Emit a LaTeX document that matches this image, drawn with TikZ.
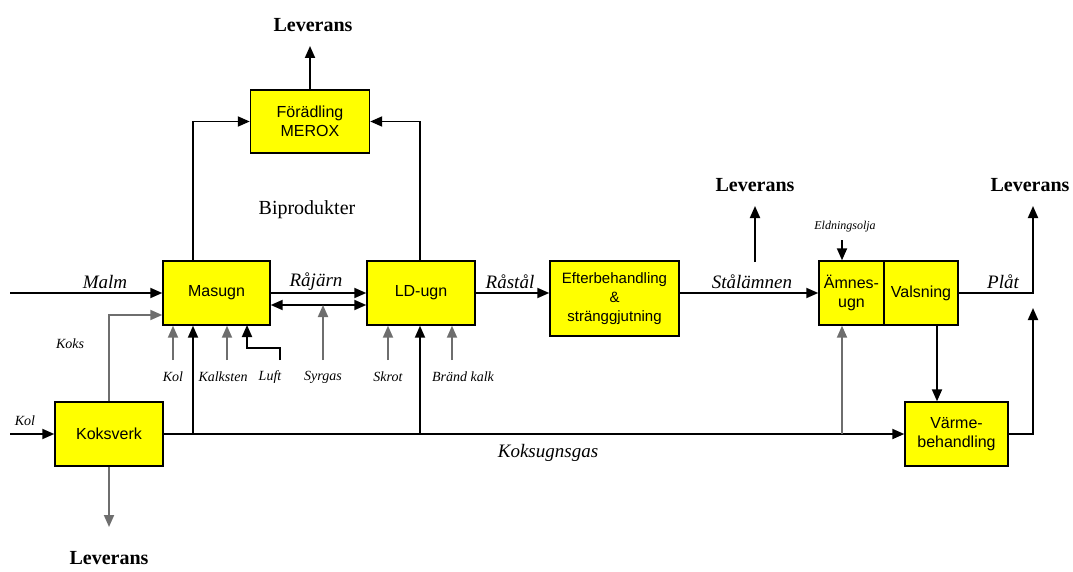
\documentclass[tikz,border=0pt]{standalone}
\usepackage{fontspec}
\setmainfont{Liberation Serif}
\setsansfont{Liberation Sans}
\usetikzlibrary{arrows.meta,calc}
\definecolor{boxyellow}{RGB}{255,255,0}
\definecolor{greyline}{RGB}{110,110,110}
\begin{document}
\begin{tikzpicture}[x=1pt,y=-1pt,
  box/.style={draw,line width=1.4pt,fill=boxyellow,align=center,inner sep=0pt,
    font=\sffamily\fontsize{16}{19}\selectfont},
  tip/.style={-{Triangle[length=12pt,width=10pt]}},
  flow/.style={line width=1.9pt,tip},
  gflow/.style={flow,draw=greyline},
  plain/.style={line width=1.9pt},
  lab/.style={font=\itshape\fontsize{19}{21}\selectfont,inner sep=1pt},
  slab/.style={font=\itshape\fontsize{14}{16}\selectfont,inner sep=1pt},
  tlab/.style={font=\itshape\fontsize{12}{14}\selectfont,inner sep=1pt},
  lev/.style={font=\bfseries\fontsize{20}{22}\selectfont,inner sep=1pt}]
\useasboundingbox (0,0) rectangle (1073,572);

% boxes
\node[box,minimum width=107pt,minimum height=64pt] (masugn) at (216.5,293) {Masugn};
\node[box,minimum width=108pt,minimum height=64pt] (ld) at (421,293) {LD-ugn};
\node[box,minimum width=129pt,minimum height=75pt,font=\sffamily\fontsize{15}{19}\selectfont] (efter) at (614.5,298.5) {Efterbehandling\\\&\\stränggjutning};
\node[box,minimum width=65pt,minimum height=64pt] (amnes) at (851.5,293) {Ämnes-\\ugn};
\node[box,minimum width=74pt,minimum height=64pt] (vals) at (921,293) {Valsning};
\node[box,minimum width=119pt,minimum height=63pt] (merox) at (310,121.5) {Förädling\\MEROX};
\node[box,minimum width=108pt,minimum height=64pt] (koksverk) at (109,434) {Koksverk};
\node[box,minimum width=103pt,minimum height=64pt] (varme) at (956.5,434) {Värme-\\behandling};

% text labels
\node[lev] (lev1) at (313,25) {Leverans};
\node[lev] (lev2) at (755,185) {Leverans};
\node[lev] (lev3) at (1030,185) {Leverans};
\node[lev] (lev4) at (109,558) {Leverans};
\node[font=\fontsize{20}{22}\selectfont] (bipro) at (307,210) {Biprodukter};
\node[lab] (malm) at (105,282) {Malm};
\node[lab] (rajarn) at (316,282) {Råjärn};
\node[lab] (rastal) at (510,282) {Råstål};
\node[lab] (stal) at (752,282) {Stålämnen};
\node[lab] (plat) at (1003,282) {Plåt};
\node[lab] (gas) at (548,453) {Koksugnsgas};
\node[slab] (koks) at (70,344) {Koks};
\node[slab] (kolk) at (25,421) {Kol};
\node[slab] (kol) at (173,377) {Kol};
\node[slab] (kalk) at (223,377) {Kalksten};
\node[slab] (luft) at (270,377) {Luft};
\node[slab] (syr) at (323,377) {Syrgas};
\node[slab] (skrot) at (388,377) {Skrot};
\node[slab] (brand) at (463,377) {Bränd kalk};
\node[tlab] (eld) at (845,227) {Eldningsolja};

% free end coordinates
\coordinate (malmstart) at (10,293);
\coordinate (kolstart) at (10,434);
\coordinate (g1) at (193,434);
\coordinate (g2) at (420,434);
\coordinate (g3) at (842,434);
\coordinate (kolin) at (173,360);
\coordinate (kalkin) at (227,360);
\coordinate (luftin) at (280,360);
\coordinate (syrin) at (323,360);
\coordinate (skrotin) at (388,360);
\coordinate (brandin) at (452,360);
\coordinate (eldin) at (842,240);
\coordinate (s1) at (755,262);
\coordinate (s2) at (755,206);
\coordinate (p1) at (1033,206);
\coordinate (p2) at (1033,308);
\coordinate (levdown) at (109,527);
\coordinate (levup) at (310,46);

% main flow
\draw[flow] (malmstart) -- (masugn.west);
\draw[flow] (masugn.east) -- (ld.west);
\draw[plain,{Triangle[length=12pt,width=10pt]}-{Triangle[length=12pt,width=10pt]}]
  ([yshift=-12pt]masugn.east) -- ([yshift=-12pt]ld.west);
\draw[flow] (ld.east) -- (efter.west |- ld.east);
\draw[flow] (efter.east |- ld.east) -- (amnes.west);
\draw[flow] (vals.east) -| (p1);
\draw[flow] (varme.east) -| (p2);
\draw[flow] (s1) -- (s2);

% byproducts
\draw[flow] (g1 |- masugn.north) |- (merox.west);
\draw[flow] (g2 |- ld.north) |- (merox.east);
\draw[flow] (merox.north) -- (levup);

% koksverk
\draw[flow] (kolstart) -- (koksverk.west);
\draw[flow] (koksverk.east) -- (varme.west);
\draw[gflow] (koksverk.north) |- ([yshift=-22pt]masugn.west);
\draw[gflow] (koksverk.south) -- (levdown);
\draw[flow] (g1) -- (g1 |- masugn.south);
\draw[flow] (g2) -- (g2 |- ld.south);
\draw[gflow] (g3) -- (g3 |- amnes.south);

% inputs
\draw[gflow] (kolin) -- (kolin |- masugn.south);
\draw[gflow] (kalkin) -- (kalkin |- masugn.south);
\draw[flow] (luftin) -- ++(0,-12) -| (247,325);
\draw[gflow] (syrin) -- ([yshift=-12pt]masugn.east -| syrin);
\draw[gflow] (skrotin) -- (skrotin |- ld.south);
\draw[gflow] (brandin) -- (brandin |- ld.south);
\draw[flow] (eldin) -- (eldin |- amnes.north);
\draw[flow] ([xshift=16pt]vals.south) -- ([xshift=16pt]vals.south |- varme.north);
\end{tikzpicture}
\end{document}
